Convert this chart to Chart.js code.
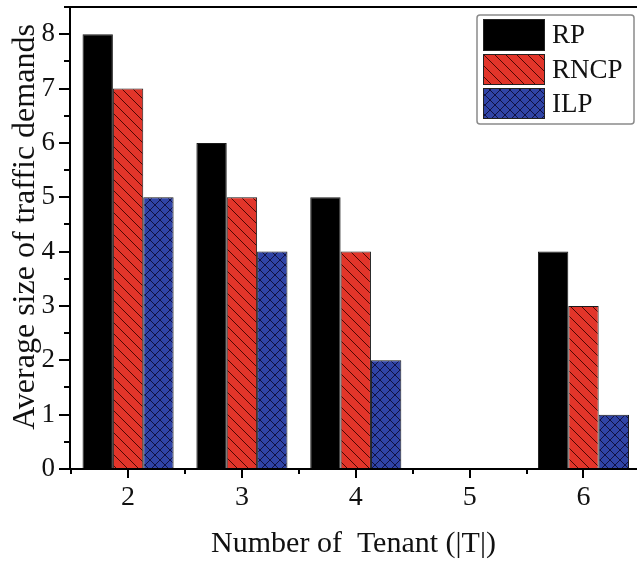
<!DOCTYPE html>
<html><head><meta charset="utf-8">
<script src="https://cdn.jsdelivr.net/npm/chart.js@4"></script>
<style>html,body{margin:0;padding:0;background:#fff;overflow:hidden}#wrap{width:637px;height:564px}</style>
</head><body><div id="wrap"><canvas id="c" width="637" height="564"></canvas></div>
<script>
const categories = [2, 3, 4, 5, 6];
const seriesNames = ['RP', 'RNCP', 'ILP'];
const rp = [8, 6, 5, null, 4];
const rncp = [7, 5, 4, null, 3];
const ilp = [5, 4, 2, null, 1];
const yTicks = [0, 1, 2, 3, 4, 5, 6, 7, 8];
const xTitle = 'Number of  Tenant (|T|)';
const yTitle = 'Average size of traffic demands';

const FONT = '"Liberation Serif", "Times New Roman", serif';

function hatch(bg, line, size, dirs) {
  const c = document.createElement('canvas');
  c.width = c.height = size;
  const g = c.getContext('2d');
  g.fillStyle = bg; g.fillRect(0, 0, size, size);
  g.strokeStyle = line; g.lineWidth = 1;
  g.beginPath();
  for (const k of [-size, 0, size]) {
    if (dirs.includes('\\')) { g.moveTo(k, 0); g.lineTo(k + size, size); }
    if (dirs.includes('/')) { g.moveTo(k + size, 0); g.lineTo(k, size); }
  }
  g.stroke();
  return g.createPattern(c, 'repeat');
}
const fills = [
  '#000000',
  hatch('#e2352a', 'rgba(70,5,0,0.95)', 11, ['\\']),
  hatch('#3044a6', 'rgba(15,15,60,0.95)', 10, ['\\', '/'])
];
const seriesData = [rp, rncp, ilp];

const decor = {
  id: 'decor',
  afterDraw(chart) {
    const { ctx, chartArea: a, scales: { x, y } } = chart;
    ctx.save();
    ctx.strokeStyle = '#000';
    ctx.lineWidth = 2;
    ctx.beginPath();
    ctx.moveTo(a.left, a.top); ctx.lineTo(a.left, a.bottom + 1);
    ctx.moveTo(a.left, a.top); ctx.lineTo(a.right, a.top);
    ctx.moveTo(a.left - 1, a.bottom); ctx.lineTo(a.right, a.bottom);
    for (let v = 0; v <= y.max + 1e-9; v += 0.5) {
      const py = Math.round(y.getPixelForValue(v));
      const len = Math.abs(v % 1) < 1e-9 ? 11 : 6;
      ctx.moveTo(a.left, py); ctx.lineTo(a.left - len, py);
    }
    for (let v = 1.5; v <= x.max + 1e-9; v += 0.5) {
      const px = Math.round(x.getPixelForValue(v));
      const len = Math.abs(v % 1) < 1e-9 ? 9 : 5;
      ctx.moveTo(px, a.bottom); ctx.lineTo(px, a.bottom + len);
    }
    ctx.stroke();

    // y title
    ctx.save();
    ctx.translate(26, 227);
    ctx.rotate(-Math.PI / 2);
    ctx.fillStyle = '#111';
    ctx.font = '32px ' + FONT;
    ctx.textAlign = 'center';
    ctx.textBaseline = 'middle';
    ctx.fillText(yTitle, 0, 0);
    ctx.restore();

    // legend
    const bx = 477, by = 15, bw = 157, bh = 109;
    ctx.lineWidth = 1.5;
    ctx.strokeStyle = '#8a8a8a';
    ctx.beginPath();
    ctx.roundRect(bx, by, bw, bh, 3);
    ctx.fillStyle = '#fff';
    ctx.fill();
    ctx.stroke();
    const rows = [[19, 32], [54, 31], [88, 31]];
    ctx.font = '27px ' + FONT;
    ctx.textAlign = 'left';
    ctx.textBaseline = 'middle';
    seriesNames.forEach((n, i) => {
      const [ry, rh] = rows[i];
      ctx.fillStyle = fills[i];
      ctx.fillRect(483, ry, 62, rh);
      ctx.lineWidth = 1;
      ctx.strokeStyle = '#222';
      ctx.strokeRect(483.5, ry + 0.5, 61, rh - 1);
      ctx.fillStyle = '#111';
      ctx.fillText(n, 552, ry + rh / 2 + 1);
    });
    ctx.restore();
  }
};

new Chart(document.getElementById('c'), {
  type: 'bar',
  data: {
    datasets: seriesNames.map((n, i) => ({
      label: n,
      data: categories.map((c, j) => ({ x: c, y: seriesData[i][j] })),
      backgroundColor: fills[i],
      borderColor: '#1a1a1a',
      borderWidth: 1,
      categoryPercentage: 0.8,
      barPercentage: 1.0
    }))
  },
  options: {
    responsive: false,
    animation: false,
    layout: { padding: { top: 7, right: 0, left: 0, bottom: 0 } },
    plugins: { legend: { display: false }, tooltip: { enabled: false } },
    scales: {
      x: {
        type: 'linear',
        offset: false,
        min: 1.49,
        max: 6.47,
        afterBuildTicks: s => { s.ticks = categories.map(v => ({ value: v })); },
        afterFit: s => { s.height = 95; s.paddingLeft = 0; s.paddingRight = 0; },
        grid: { display: false, drawTicks: false, offset: false },
        border: { display: false },
        ticks: { color: '#111', font: { family: FONT, size: 28 }, padding: 12, maxRotation: 0, autoSkip: false, callback: v => String(v) },
        title: { display: true, text: xTitle, color: '#111', font: { family: FONT, size: 30 }, padding: { top: 0, bottom: 2 } }
      },
      y: {
        min: 0,
        max: 8.5,
        afterBuildTicks: s => { s.ticks = yTicks.map(v => ({ value: v })); },
        afterFit: s => { s.width = 70; s.paddingTop = 0; s.paddingBottom = 0; },
        grid: { display: false, drawTicks: false },
        border: { display: false },
        ticks: { color: '#111', font: { family: FONT, size: 27 }, padding: 15, callback: v => String(v) }
      }
    }
  },
  plugins: [decor]
});
</script>
</body></html>
